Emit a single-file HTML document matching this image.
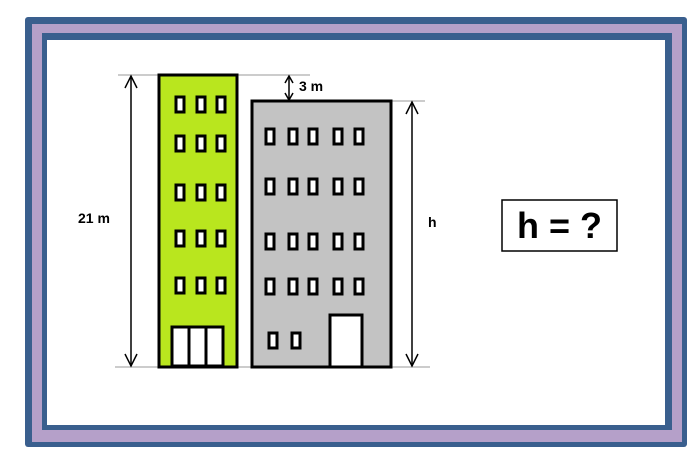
<!DOCTYPE html>
<html><head><style>body{margin:0;background:#fff}svg{display:block}</style></head><body>
<svg width="700" height="465" viewBox="0 0 700 465" xmlns="http://www.w3.org/2000/svg" font-family="Liberation Sans, sans-serif">
<rect x="25" y="17" width="662" height="430" rx="3" fill="#3a5f8e"/>
<rect x="32" y="24" width="650" height="418" fill="#b5a0c9"/>
<rect x="42" y="33" width="630" height="397" fill="#3a5f8e"/>
<rect x="47" y="40" width="618" height="385" fill="#fff"/>
<g stroke="#999" stroke-width="1">
<line x1="118" y1="75" x2="310" y2="75"/>
<line x1="390" y1="101" x2="425" y2="101"/>
<line x1="115" y1="367" x2="430" y2="367"/>
</g>
<rect x="159" y="75" width="78" height="292" fill="#b9e61e" stroke="#000" stroke-width="3"/>
<rect x="252" y="101" width="139" height="266" fill="#c3c3c3" stroke="#000" stroke-width="3"/>
<g fill="#fff" stroke="#000" stroke-width="3">
<rect x="172" y="327" width="51" height="39"/>
<line x1="189" y1="327" x2="189" y2="366"/><line x1="206" y1="327" x2="206" y2="366"/>
<rect x="330" y="315" width="32" height="52"/>
</g>
<g fill="#fff" stroke="#000" stroke-width="3">
<rect x="176" y="97" width="8" height="15"/><rect x="197" y="97" width="8" height="15"/><rect x="217" y="97" width="8" height="15"/>
<rect x="176" y="136" width="8" height="15"/><rect x="197" y="136" width="8" height="15"/><rect x="217" y="136" width="8" height="15"/>
<rect x="176" y="185" width="8" height="15"/><rect x="197" y="185" width="8" height="15"/><rect x="217" y="185" width="8" height="15"/>
<rect x="176" y="231" width="8" height="15"/><rect x="197" y="231" width="8" height="15"/><rect x="217" y="231" width="8" height="15"/>
<rect x="176" y="278" width="8" height="15"/><rect x="197" y="278" width="8" height="15"/><rect x="217" y="278" width="8" height="15"/>
<rect x="266" y="129" width="8" height="15"/><rect x="289" y="129" width="8" height="15"/><rect x="309" y="129" width="8" height="15"/><rect x="334" y="129" width="8" height="15"/><rect x="355" y="129" width="8" height="15"/>
<rect x="266" y="179" width="8" height="15"/><rect x="289" y="179" width="8" height="15"/><rect x="309" y="179" width="8" height="15"/><rect x="334" y="179" width="8" height="15"/><rect x="355" y="179" width="8" height="15"/>
<rect x="266" y="234" width="8" height="15"/><rect x="289" y="234" width="8" height="15"/><rect x="309" y="234" width="8" height="15"/><rect x="334" y="234" width="8" height="15"/><rect x="355" y="234" width="8" height="15"/>
<rect x="266" y="279" width="8" height="15"/><rect x="289" y="279" width="8" height="15"/><rect x="309" y="279" width="8" height="15"/><rect x="334" y="279" width="8" height="15"/><rect x="355" y="279" width="8" height="15"/>
<rect x="269" y="333" width="8" height="15"/><rect x="292" y="333" width="8" height="15"/>
</g>
<g stroke="#000" stroke-width="1.5" fill="none">
<line x1="131" y1="76" x2="131" y2="366"/>
<polyline points="125,88 131,76 137,88"/><polyline points="125,354 131,366 137,354"/>
<line x1="412" y1="102" x2="412" y2="366"/>
<polyline points="406,114 412,102 418,114"/><polyline points="406,354 412,366 418,354"/>
<line x1="289" y1="76" x2="289" y2="100"/>
<polyline points="285,83 289,76 293,83"/><polyline points="285,93 289,100 293,93"/>
</g>
<g font-weight="bold" font-size="14" fill="#000">
<text x="78" y="223">21 m</text>
<text x="299" y="91">3 m</text>
<text x="428" y="227">h</text>
</g>
<rect x="502" y="200" width="115" height="51" fill="#fff" stroke="#000" stroke-width="1.5"/>
<text x="559.5" y="238" font-size="36" font-weight="bold" text-anchor="middle">h = ?</text>
</svg>
</body></html>
